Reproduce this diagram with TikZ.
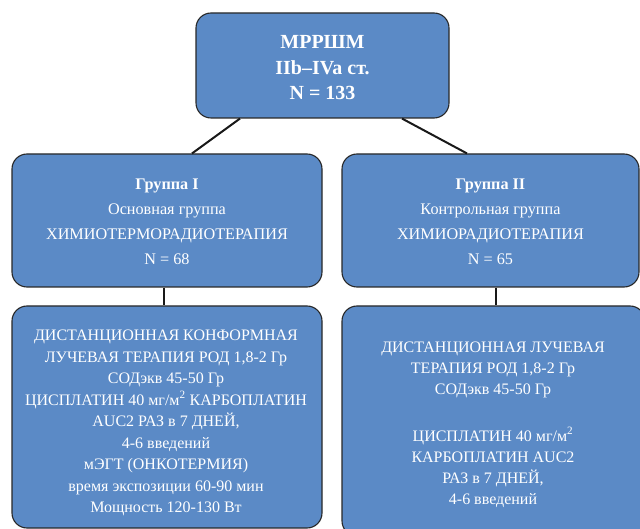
\documentclass[tikz,border=0pt]{standalone}
\usepackage{fontspec}
\setmainfont{Liberation Serif}
\definecolor{boxblue}{RGB}{91,138,198}
\definecolor{edgegray}{RGB}{40,40,40}
\tikzset{
  bluebox/.style={draw=edgegray, line width=1.1pt, fill=boxblue, rounded corners=15pt,
    rectangle, inner sep=0pt},
  boxtext/.style={text=white, align=center, inner sep=0pt},
  link/.style={draw=black!90, line width=2pt}
}
\begin{document}
\begin{tikzpicture}[x=1pt,y=-1pt]
\useasboundingbox (0,0) rectangle (640,529);
\clip (0,0) rectangle (640,529);
\node[bluebox, minimum width=253pt, minimum height=105pt] (top) at (322.5,65.5) {};
\node[boxtext, font=\fontsize{20}{25.5}\selectfont\bfseries] (toptext) at (322.5,68)
  {МРРШМ\\IIb–IVa ст.\\N = 133};
\node[bluebox, minimum width=310pt, minimum height=133pt] (g1) at (167,220.5) {};
\node[boxtext, font=\fontsize{16.2}{25}\selectfont] (g1text) at (167,221.5)
  {\textbf{Группа I}\\Основная группа\\ХИМИОТЕРМОРАДИОТЕРАПИЯ\\N = 68};
\node[bluebox, minimum width=297pt, minimum height=133pt] (g2) at (490.5,220.5) {};
\node[boxtext, font=\fontsize{16.2}{25}\selectfont] (g2text) at (490.5,221.5)
  {\textbf{Группа II}\\Контрольная группа\\ХИМИОРАДИОТЕРАПИЯ\\N = 65};
\node[bluebox, minimum width=310pt, minimum height=222pt] (b1) at (167,417) {};
\node[boxtext, font=\fontsize{16}{21.5}\selectfont] (b1text) at (166,423)
  {ДИСТАНЦИОННАЯ КОНФОРМНАЯ\\ЛУЧЕВАЯ ТЕРАПИЯ РОД 1,8-2 Гр\\СОДэкв 45-50 Гр\\ЦИСПЛАТИН 40 мг/м\textsuperscript{2} КАРБОПЛАТИН\\AUC2 РАЗ в 7 ДНЕЙ,\\4-6 введений\\мЭГТ (ОНКОТЕРМИЯ)\\время экспозиции 60-90 мин\\Мощность 120-130 Вт};
\node[bluebox, minimum width=303pt, minimum height=230pt] (b2) at (493.5,421) {};
\node[boxtext, font=\fontsize{16}{21}\selectfont] (b2text) at (493,424.5)
  {ДИСТАНЦИОННАЯ ЛУЧЕВАЯ\\ТЕРАПИЯ РОД 1,8-2 Гр\\СОДэкв 45-50 Гр\\[26pt]ЦИСПЛАТИН 40 мг/м\textsuperscript{2}\\КАРБОПЛАТИН AUC2\\РАЗ в 7 ДНЕЙ,\\4-6 введений};
\draw[link] (top.south -| 240,0) -- (g1.north -| 192,0);
\draw[link] (top.south -| 402,0) -- (g2.north -| 467,0);
\draw[link] (g1.south -| 164,0) -- (b1.north -| 164,0);
\draw[link] (g2.south -| 496,0) -- (b2.north -| 496,0);
\end{tikzpicture}
\end{document}
